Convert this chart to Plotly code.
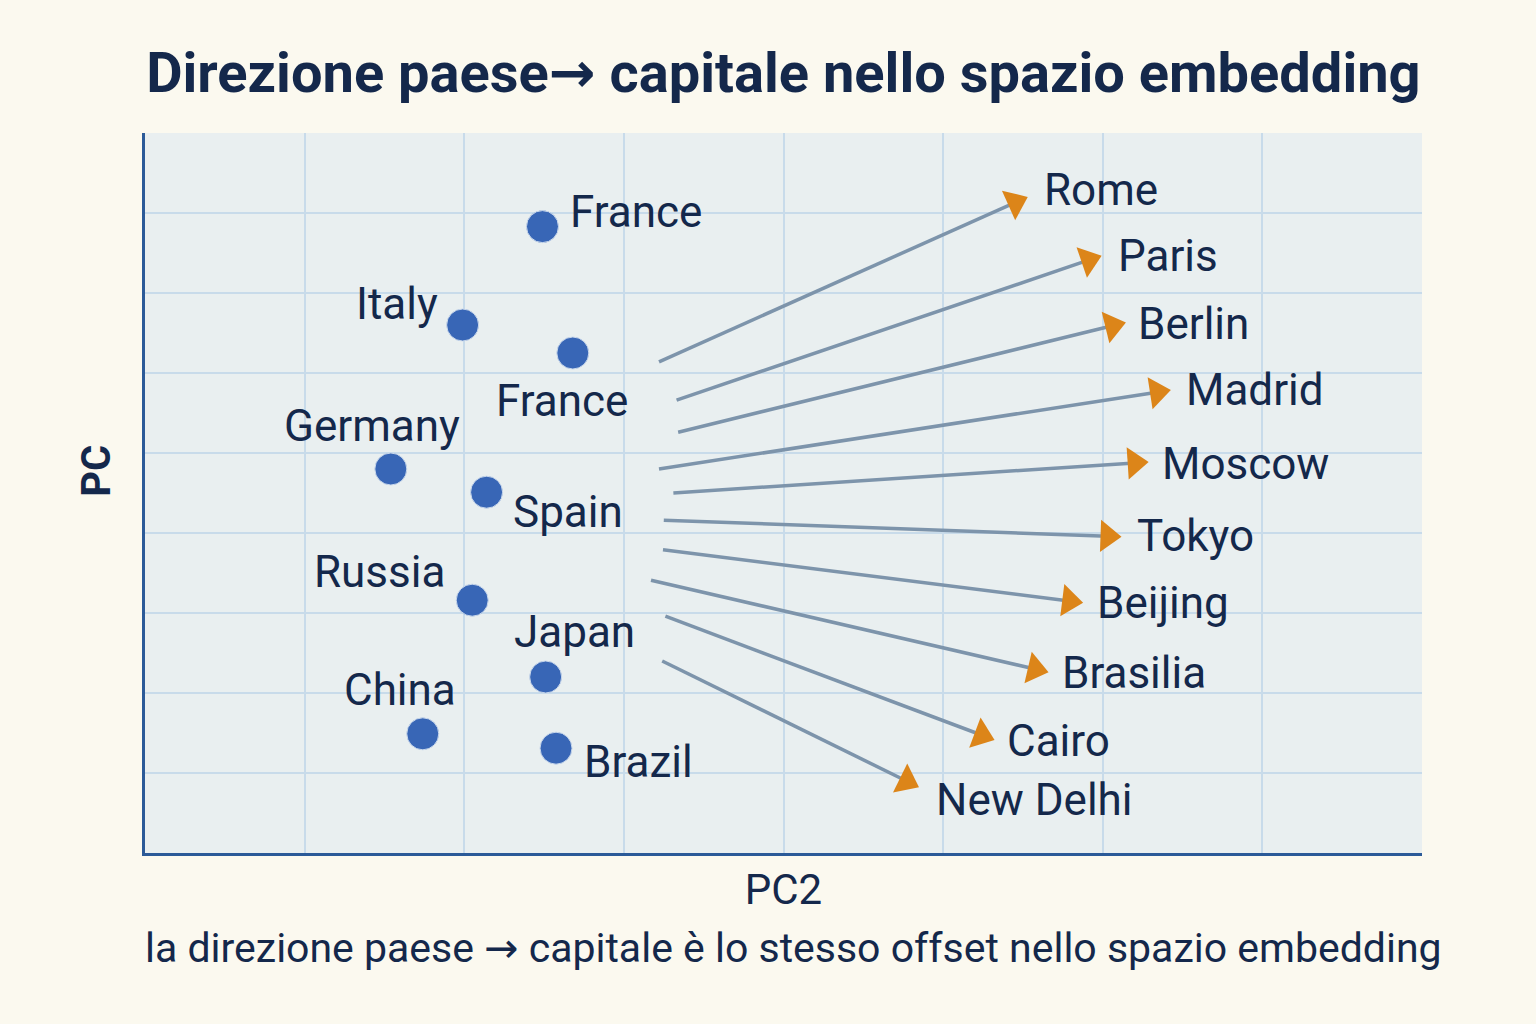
import plotly.graph_objects as go

# ---- data ----
countries = ["France", "Italy", "France", "Germany", "Spain", "Russia", "Japan", "China", "Brazil"]
country_x = [2.49, 1.99, 2.68, 1.54, 2.14, 2.05, 2.51, 1.74, 2.575]
country_y = [7.83, 6.60, 6.25, 4.80, 4.51, 3.16, 2.20, 1.49, 1.31]
country_label_x = [2.65, 1.85, 2.61, 1.42, 2.29, 1.47, 2.69, 1.60, 2.74]
country_label_y = [8.01, 6.86, 5.65, 5.34, 4.26, 3.51, 2.76, 2.04, 1.14]
country_label_anchor = ["left", "right", "center", "center", "left", "center", "center", "center", "left"]

capitals = ["Rome", "Paris", "Berlin", "Madrid", "Moscow", "Tokyo", "Beijing", "Brasilia", "Cairo", "New Delhi"]
arrow_x0 = [3.22, 3.33, 3.34, 3.22, 3.31, 3.25, 3.245, 3.17, 3.26, 3.24]
arrow_y0 = [6.14, 5.66, 5.26, 4.80, 4.50, 4.16, 3.79, 3.41, 2.96, 2.40]
arrow_x1 = [5.45, 5.91, 6.06, 6.34, 6.20, 6.03, 5.79, 5.575, 5.24, 4.77]
arrow_y1 = [8.13, 7.41, 6.59, 5.76, 4.875, 3.96, 3.15, 2.30, 1.475, 0.90]
capital_label_x = [5.62, 6.08, 6.21, 6.51, 6.36, 6.20, 5.95, 5.73, 5.39, 4.94]
capital_label_y = [8.29, 7.46, 6.61, 5.79, 4.86, 3.96, 3.125, 2.25, 1.40, 0.66]

ARROW = "<span style='font-family:DejaVu Sans'>→</span>"
title_text = "Direzione paese" + ARROW + " capitale nello spazio embedding"
subtitle_text = "la direzione paese " + ARROW + " capitale è lo stesso offset nello spazio embedding"
x_title = "PC2"
y_title = "PC"

NAVY = "#14284b"
FONT = "Roboto"

fig = go.Figure()

# arrows
for i in range(len(capitals)):
    fig.add_trace(go.Scatter(
        x=[arrow_x0[i], arrow_x1[i]], y=[arrow_y0[i], arrow_y1[i]],
        mode="lines+markers",
        line=dict(color="#7d94ab", width=3.5),
        marker=dict(symbol="triangle-up", size=[0, 28], color="#dc8519", opacity=1,
                    angleref="previous", line=dict(width=0)),
        hoverinfo="skip", showlegend=False,
    ))

# country points
fig.add_trace(go.Scatter(
    x=country_x, y=country_y, mode="markers",
    marker=dict(size=32, color="#3866b6", line=dict(color="#c9d8ec", width=1)),
    text=countries, hoverinfo="text", showlegend=False,
))

annotations = []
for name, lx, ly, anc in zip(countries, country_label_x, country_label_y, country_label_anchor):
    annotations.append(dict(x=lx, y=ly, xref="x", yref="y", text=name, showarrow=False,
                            xanchor=anc, yanchor="middle",
                            font=dict(family=FONT, size=44, color=NAVY)))
for name, lx, ly in zip(capitals, capital_label_x, capital_label_y):
    annotations.append(dict(x=lx, y=ly, xref="x", yref="y", text=name, showarrow=False,
                            xanchor="left", yanchor="middle",
                            font=dict(family=FONT, size=44, color=NAVY)))
annotations.append(dict(x=0.508, y=-0.132, xref="paper", yref="paper", text=subtitle_text,
                        showarrow=False, xanchor="center", yanchor="middle",
                        font=dict(family=FONT, size=41, color=NAVY)))
# y axis title (placed slightly above the centre, as in the reference)
annotations.append(dict(x=-0.0376, y=0.531, xref="paper", yref="paper",
                        text="<b>" + y_title + "</b>", textangle=-90, showarrow=False,
                        xanchor="center", yanchor="middle",
                        font=dict(family=FONT, size=40, color=NAVY)))

fig.update_layout(
    width=1536, height=1024,
    margin=dict(l=145, r=114, t=133, b=171),
    paper_bgcolor="#fbf9ef",
    plot_bgcolor="#e9eff0",
    title=dict(text="<b>" + title_text + "</b>", x=0.51, xanchor="center",
               y=1 - 72 / 1024, yanchor="middle",
               font=dict(family=FONT, size=56, color=NAVY)),
    annotations=annotations,
    xaxis=dict(range=[0, 8], dtick=1, tick0=0, showticklabels=False, ticks="",
               showgrid=True, gridcolor="#c8dbea", gridwidth=2, zeroline=False,
               showline=True, linecolor="#2b5a98", linewidth=3,
               title=dict(text=x_title, standoff=20,
                          font=dict(family=FONT, size=42, color=NAVY))),
    yaxis=dict(range=[0, 9], dtick=1, tick0=0, showticklabels=False, ticks="",
               showgrid=True, gridcolor="#c8dbea", gridwidth=2, zeroline=False,
               showline=True, linecolor="#2b5a98", linewidth=3),
)

fig.write_html("out.html", config={"displayModeBar": False},
               post_script="document.body.style.margin='0';")
